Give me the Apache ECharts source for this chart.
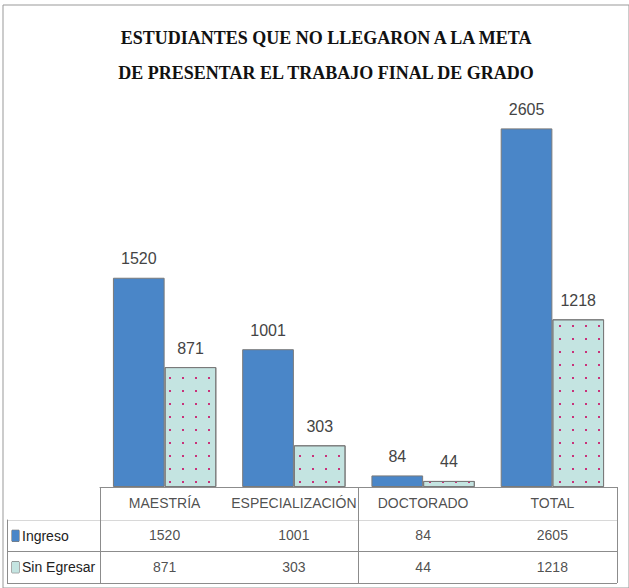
<!DOCTYPE html>
<html>
<head>
<meta charset="utf-8">
<style>
  html, body { margin: 0; padding: 0; background: #fff; }
  #chart { width: 629px; height: 588px; }
</style>
<script src="https://cdn.jsdelivr.net/npm/echarts@6/dist/echarts.min.js"></script>
</head>
<body>
<div id="chart"></div>
<script>
var titleLines = ['ESTUDIANTES QUE NO LLEGARON A LA META', 'DE PRESENTAR EL TRABAJO FINAL DE GRADO'];
var categories = ['MAESTRÍA', 'ESPECIALIZACIÓN', 'DOCTORADO', 'TOTAL'];
var seriesNames = ['Ingreso', 'Sin Egresar'];
var ingreso = [1520, 1001, 84, 2605];
var sinEgresar = [871, 303, 44, 1218];

(function() {
  var blue = '#4a86c8';
  var teal = '#c4e4e1';
  var dot = '#c8327a';
  var line = '#8c8c8c';
  var narrow = "'Liberation Sans Narrow', 'Liberation Sans', sans-serif";

  var chart = echarts.init(document.getElementById('chart'), null, { renderer: 'svg' });

  // table cells: header row + one row per series
  var headerCells = categories.map(function(c) { return [c, 'h', c]; });
  var ingresoCells = categories.map(function(c, i) { return [c, seriesNames[0], ingreso[i]]; });
  var sinCells = categories.map(function(c, i) { return [c, seriesNames[1], sinEgresar[i]]; });

  var cellLabel = {
    show: true, position: 'inside', color: '#222', fontSize: 14, fontFamily: narrow,
    formatter: function(p) { return p.value[2]; }
  };

  chart.setOption({
    animation: false,
    title: {
      text: titleLines.join('\n'),
      left: 321, top: 15, textAlign: 'center',
      textStyle: { fontFamily: "'Liberation Serif', serif", fontWeight: 'bold', fontSize: 18, color: '#111', lineHeight: 35 }
    },
    grid: [
      { left: 100, right: 12, top: 74, bottom: 101 },
      { left: 100, right: 12, top: 487, bottom: 5 },
      { left: 7, right: 12, top: 520, bottom: 5 },
      { left: 3, right: -5, top: 5, bottom: -5, show: true, borderColor: '#999', borderWidth: 1 }
    ],
    xAxis: [
      { gridIndex: 0, type: 'category', data: categories, axisLine: { show: false }, axisTick: { show: false }, axisLabel: { show: false } },
      { gridIndex: 1, type: 'category', data: categories, position: 'top',
        axisLine: { show: true, lineStyle: { color: line } }, axisTick: { show: false }, axisLabel: { show: false },
        splitLine: { show: true, lineStyle: { color: line } } },
      { gridIndex: 2, type: 'value', show: false },
      { gridIndex: 3, type: 'value', show: false }
    ],
    yAxis: [
      { gridIndex: 0, type: 'value', min: 0, max: 3000, show: false },
      { gridIndex: 1, type: 'category', data: ['h'].concat(seriesNames), inverse: true, show: false },
      { gridIndex: 2, type: 'category', data: seriesNames, inverse: true,
        axisLine: { show: true, lineStyle: { color: line } }, axisTick: { show: false },
        splitLine: { show: true, lineStyle: { color: ['#d8d8d8', line, line] } },
        axisLabel: {
          inside: true, margin: 5, fontFamily: narrow, fontSize: 14, color: '#222',
          formatter: function(v, i) { return '{k' + i + '|}{s|}' + v; },
          rich: {
            k0: { width: 7, height: 11, backgroundColor: blue, borderColor: '#555', borderWidth: 0.5 },
            k1: { width: 7, height: 11, backgroundColor: teal, borderColor: '#555', borderWidth: 0.5 },
            s: { width: 3 }
          }
        } },
      { gridIndex: 3, type: 'value', show: false }
    ],
    series: [
      {
        name: seriesNames[0], type: 'bar', xAxisIndex: 0, yAxisIndex: 0,
        data: ingreso, barGap: '0%', barCategoryGap: '20%',
        itemStyle: { color: blue, borderColor: '#7a7a7a', borderWidth: 1 },
        label: { show: true, position: 'top', distance: 11, color: '#444', fontSize: 16, fontFamily: "'Liberation Sans', sans-serif" }
      },
      {
        name: seriesNames[1], type: 'bar', xAxisIndex: 0, yAxisIndex: 0,
        data: sinEgresar, barGap: '0%', barCategoryGap: '20%',
        itemStyle: {
          color: teal, borderColor: '#7a7a7a', borderWidth: 1,
          decal: { symbol: 'rect', symbolSize: 1, dashArrayX: [2, 11], dashArrayY: [2, 11], color: dot }
        },
        label: { show: true, position: 'top', distance: 11, color: '#444', fontSize: 16, fontFamily: "'Liberation Sans', sans-serif" }
      },
      { type: 'scatter', xAxisIndex: 1, yAxisIndex: 1, symbolSize: 0, data: headerCells, label: cellLabel, silent: true },
      { type: 'scatter', xAxisIndex: 1, yAxisIndex: 1, symbolSize: 0, data: ingresoCells, label: cellLabel, silent: true },
      { type: 'scatter', xAxisIndex: 1, yAxisIndex: 1, symbolSize: 0, data: sinCells, label: cellLabel, silent: true }
    ]
  });
  window.addEventListener('resize', function() { chart.resize(); });
})();
</script>
</body>
</html>
